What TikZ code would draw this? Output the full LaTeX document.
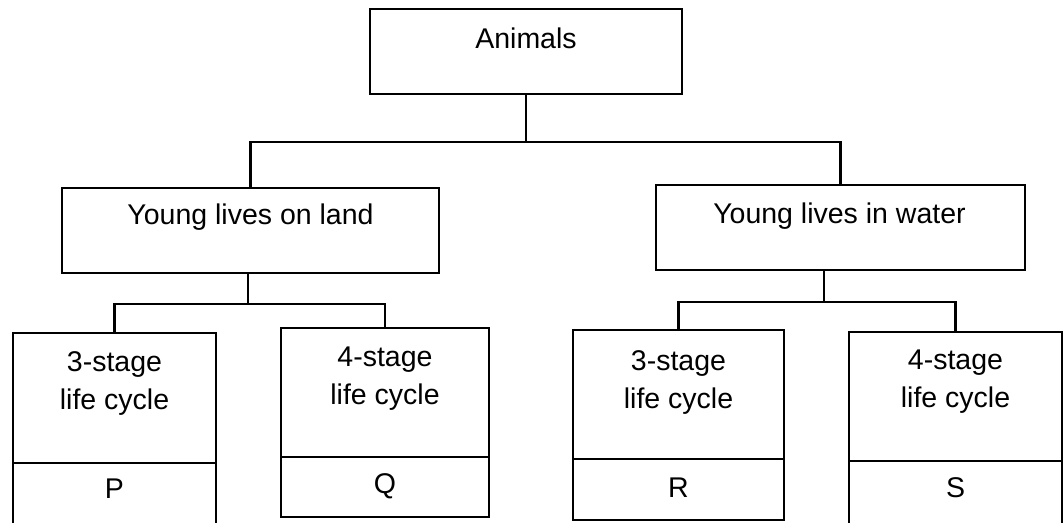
\documentclass[tikz,border=0pt]{standalone}
\usepackage{fontspec}
\setmainfont{Liberation Sans}
\begin{document}
\begin{tikzpicture}[x=1pt,y=-1pt,
  box/.style={draw, line width=2.6pt, inner sep=0pt, outer sep=0pt},
  lbl/.style={inner sep=0pt, font=\fontsize{28.5pt}{38pt}\selectfont, align=center},
  conn/.style={line width=2.6pt}]
\useasboundingbox (0,0) rectangle (1064,522);
\clip (0,0) rectangle (1064,522);
% boxes
\node[box, minimum width=312pt, minimum height=85pt] (top) at (526,51.5) {};
\node[box, minimum width=377pt, minimum height=85pt] (lm) at (250.5,230.5) {};
\node[box, minimum width=369pt, minimum height=85pt] (rm) at (840.5,227.5) {};
\node[box, minimum width=203pt, minimum height=130pt] (pt) at (114.5,398) {};
\node[box, minimum width=203pt, minimum height=67pt] (pb) at (114.5,496.5) {};
\node[box, minimum width=208pt, minimum height=129pt] (qt) at (385,392.5) {};
\node[box, minimum width=208pt, minimum height=60pt] (qb) at (385,487) {};
\node[box, minimum width=211pt, minimum height=129pt] (rt) at (678.5,394.5) {};
\node[box, minimum width=211pt, minimum height=61pt] (rb) at (678.5,489.5) {};
\node[box, minimum width=213pt, minimum height=129pt] (st) at (955.5,396.5) {};
\node[box, minimum width=213pt, minimum height=69pt] (sb) at (955.5,495.5) {};
% texts
\node[lbl, anchor=base] (ttop) at (526,48) {Animals};
\node[lbl, anchor=base] (tlm) at (250.5,224) {Young lives on land};
\node[lbl, anchor=base] (trm) at (839.5,223) {Young lives in water};
\node[lbl] (tpt) at (114.5,384) {3-stage\\life cycle};
\node[lbl] (tqt) at (385,379) {4-stage\\life cycle};
\node[lbl] (trt) at (678.5,382) {3-stage\\life cycle};
\node[lbl] (tst) at (955.5,382) {4-stage\\life cycle};
\node[lbl, anchor=base] (tpb) at (114.5,498) {P};
\node[lbl, anchor=base] (tqb) at (385,493) {Q};
\node[lbl, anchor=base] (trb) at (678.5,497) {R};
\node[lbl, anchor=base] (tsb) at (955.5,497) {S};
% connectors
\coordinate (tj) at (526,142);
\coordinate (lj) at (248,304);
\coordinate (rj) at (824,302);
\draw[conn] (top.south) -- (tj);
\draw[conn] (lm.north) |- (tj) -| (rm.north);
\draw[conn] (lm.south -| lj) -- (lj);
\draw[conn] (pt.north) |- (lj) -| (qt.north);
\draw[conn] (rm.south -| rj) -- (rj);
\draw[conn] (rt.north) |- (rj) -| (st.north);
\end{tikzpicture}
\end{document}
